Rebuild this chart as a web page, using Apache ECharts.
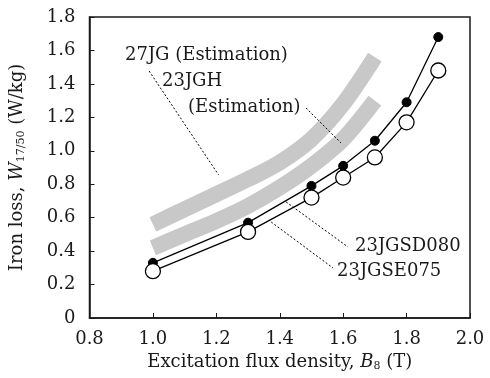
<!DOCTYPE html>
<html>
<head>
<meta charset="utf-8">
<script src="https://cdn.jsdelivr.net/npm/echarts@6/dist/echarts.min.js"></script>
<style>
  html, body { margin: 0; padding: 0; background: #fff; }
  #chart { width: 490px; height: 378px; }
</style>
</head>
<body>
<div id="chart"></div>
<script>
// measured points
const fluxB = [1.0, 1.3, 1.5, 1.6, 1.7, 1.8, 1.9];
const lossSD080 = [0.33, 0.57, 0.79, 0.91, 1.06, 1.29, 1.68];
const lossSE075 = [0.28, 0.515, 0.72, 0.84, 0.96, 1.17, 1.48];

// estimated bands (grey)
const estB = [1.0, 1.1, 1.2, 1.3, 1.4, 1.5, 1.6, 1.7];
const est27JG = [0.56, 0.65, 0.74, 0.83, 0.93, 1.07, 1.28, 1.56];
const est23JGH = [0.42, 0.50, 0.58, 0.67, 0.78, 0.91, 1.07, 1.30];

// leader lines [x, y] pairs
const leader27JG = [[0.988, 1.477], [1.207, 0.856]];
const leader23JGH = [[1.483, 1.256], [1.593, 1.047]];
const leaderSD080 = [[1.42, 0.694], [1.615, 0.425]];
const leaderSE075 = [[1.373, 0.574], [1.568, 0.299]];

const xTicks = { min: 0.8, max: 2.0, step: 0.2 };
const yTicks = { min: 0, max: 1.8, step: 0.2 };

const font = '"DejaVu Serif", "Liberation Serif", serif';
const zip = (xs, ys) => xs.map((x, i) => [x, ys[i]]);

const chart = echarts.init(document.getElementById('chart'));

const band = (data) => ({
  type: 'line',
  data: zip(estB, data),
  smooth: 0.3,
  symbol: 'none',
  silent: true,
  z: 1,
  lineStyle: { color: '#c8c8c8', width: 16, cap: 'butt' }
});

const leader = (pts) => ({
  type: 'line',
  data: pts,
  symbol: 'none',
  silent: true,
  z: 3,
  lineStyle: { color: '#000', width: 1, type: [2, 2] }
});

const text = (str, left, top) => ({
  type: 'text',
  left: left,
  top: top,
  style: { text: str, font: '18px ' + font, fill: '#1a1a1a' }
});

const nameRich = {
  n: { fontSize: 18, fontFamily: font, color: '#1a1a1a' },
  i: { fontSize: 18, fontFamily: font, fontStyle: 'italic', color: '#1a1a1a' },
  s: { fontSize: 11, fontFamily: font, color: '#1a1a1a', padding: [8, 0, 0, 0] }
};

chart.setOption({
  animation: false,
  textStyle: { fontFamily: font },
  grid: {
    left: 87, top: 17, right: 20, bottom: 60,
    show: true, borderColor: '#1a1a1a', borderWidth: 1.5
  },
  xAxis: {
    type: 'value',
    min: xTicks.min, max: xTicks.max, interval: xTicks.step,
    axisLine: { lineStyle: { color: '#1a1a1a', width: 1.5 } },
    axisTick: { inside: true, length: 5, lineStyle: { color: '#1a1a1a' } },
    axisLabel: {
      color: '#1a1a1a', fontSize: 18, fontFamily: font, margin: 12,
      formatter: (v) => v.toFixed(1)
    },
    splitLine: { show: false },
    name: '{n|Excitation flux density, }{i|B}{s|8}{n| (T)}',
    nameLocation: 'middle',
    nameGap: 35,
    nameTextStyle: { rich: nameRich }
  },
  yAxis: {
    type: 'value',
    min: yTicks.min, max: yTicks.max, interval: yTicks.step,
    axisLine: { show: true, lineStyle: { color: '#1a1a1a', width: 1.5 } },
    axisTick: { show: true, inside: true, length: 5, lineStyle: { color: '#1a1a1a' } },
    axisLabel: {
      color: '#1a1a1a', fontSize: 18, fontFamily: font, margin: 14,
      formatter: (v) => (v === 0 ? '0' : v.toFixed(1))
    },
    splitLine: { show: false },
    name: '{n|Iron loss, }{i|W}{s|17/50}{n| (W/kg)}',
    nameLocation: 'middle',
    nameGap: 63,
    nameTextStyle: { rich: nameRich }
  },
  series: [
    band(est27JG),
    band(est23JGH),
    leader(leader27JG),
    leader(leader23JGH),
    leader(leaderSD080),
    leader(leaderSE075),
    {
      name: '23JGSD080',
      type: 'line',
      data: zip(fluxB, lossSD080),
      symbol: 'circle',
      symbolSize: 9,
      z: 4,
      itemStyle: { color: '#000', borderColor: '#000', borderWidth: 1 },
      lineStyle: { color: '#000', width: 1.3 }
    },
    {
      name: '23JGSE075',
      type: 'line',
      data: zip(fluxB, lossSE075),
      symbol: 'circle',
      symbolSize: 15,
      z: 5,
      itemStyle: { color: '#fff', borderColor: '#000', borderWidth: 1.3 },
      lineStyle: { color: '#000', width: 1.3 }
    }
  ],
  graphic: [
    text('27JG (Estimation)', 125, 46),
    text('23JGH', 162, 72),
    text('(Estimation)', 188, 98),
    text('23JGSD080', 355, 237),
    text('23JGSE075', 337, 262)
  ]
});
</script>
</body>
</html>
